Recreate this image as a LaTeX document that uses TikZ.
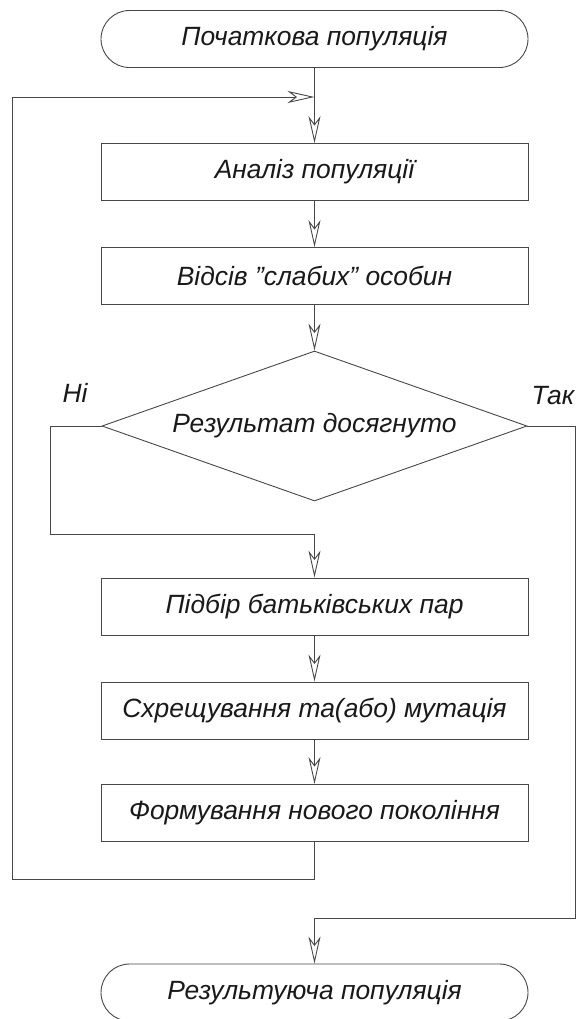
\documentclass[tikz,border=0pt]{standalone}
\usepackage{fontspec}
\setmainfont{Liberation Sans}
\usetikzlibrary{arrows.meta,shapes.geometric}
\begin{document}
\begin{tikzpicture}[x=1bp,y=-1bp,
  line/.style={draw=black!72, line width=0.9bp},
  arr/.style={line, -{Stealth[open,length=27bp,width=12bp,inset=8bp]}},
  txt/.style={font=\fontsize{26.5}{30}\selectfont\itshape, text=black!90},
  proc/.style={line, txt, rectangle, minimum width=427bp, minimum height=57bp, inner sep=0pt},
  term/.style={proc, rounded corners=28.5bp},
  dec/.style={line, txt, diamond, aspect=2.83, minimum width=425bp, minimum height=150bp, inner sep=0pt}]
\useasboundingbox (0,0) rectangle (576,1019);
\node[term] (t1) at (314.5,39) {Початкова популяція};
\node[proc] (b1) at (314.5,172) {Аналіз популяції};
\node[proc] (b2) at (314.5,276) {Відсів "слабих" особин};
\node[dec]  (d)  at (314.5,426) {Результат досягнуто};
\node[proc] (b3) at (314.5,606.5) {Підбір батьківських пар};
\node[proc] (b4) at (314.5,710.5) {Схрещування та(або) мутація};
\node[proc] (b5) at (314.5,813) {Формування нового покоління};
\node[term] (t2) at (314.5,992.5) {Результуюча популяція};
\node[txt] (no)  at (75,393) {Ні};
\node[txt] (yes) at (553,396) {Так};
% main flow
\draw[arr] (t1.south) -- (b1.north);
\draw[arr] (b1.south) -- (b2.north);
\draw[arr] (b2.south) -- (d.north);
\draw[arr] (b3.south) -- (b4.north);
\draw[arr] (b4.south) -- (b5.north);
% feedback loop
\coordinate (j1) at (314.5,97);
\coordinate (fbB) at (314.5,879);
\coordinate (fbL) at (12,879);
\coordinate (fbT) at (12,97);
\draw[arr] (b5.south) -- (fbB) -- (fbL) -- (fbT) -- (j1);
% no branch
\coordinate (n1) at (50,426);
\coordinate (n2) at (50,534);
\coordinate (n3) at (314.5,534);
\draw[arr] (d.west) -- (n1) -- (n2) -- (n3) -- (b3.north);
% yes branch
\coordinate (y1) at (575,426);
\coordinate (y2) at (575,918);
\coordinate (y3) at (314.5,918);
\draw[arr] (d.east) -- (y1) -- (y2) -- (y3) -- (t2.north);
\end{tikzpicture}
\end{document}
